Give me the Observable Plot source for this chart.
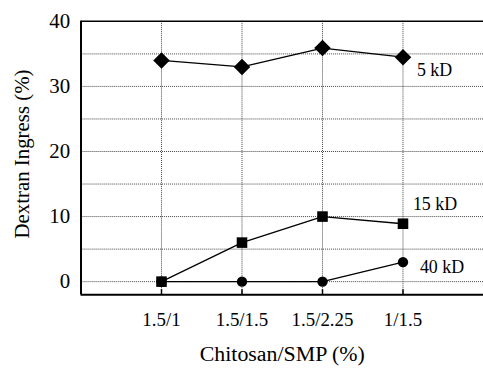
<!DOCTYPE html>
<html><head><meta charset="utf-8">
<script src="https://cdn.jsdelivr.net/npm/d3@7"></script>
<script src="https://cdn.jsdelivr.net/npm/@observablehq/plot@0.6"></script>
<style>html,body{margin:0;padding:0;background:#fff;overflow:hidden} svg{display:block}</style>
</head><body><div id="chart"></div>
<script>
const categories = ["1.5/1", "1.5/1.5", "1.5/2.25", "1/1.5"];
const seriesNames = ["5 kD", "15 kD", "40 kD"];
const values5kD = [34, 33, 35.9, 34.5];
const values15kD = [0, 6, 10, 8.9];
const values40kD = [0, 0, 0, 3];
const yTicks = [0, 10, 20, 30, 40];
const yGrid = [0, 5, 10, 15, 20, 25, 30, 35];
const yTitle = "Dextran Ingress (%)";
const xTitle = "Chitosan/SMP (%)";

const idx = categories.map((c, i) => i + 1);
const allSeries = [values5kD, values15kD, values40kD];
const symbols = ["diamond2", "square", "circle"];
const sizes = [7.5, 6, 5.2];
const rows = allSeries.flatMap((vals, s) => vals.map((v, i) => ({x: i + 1, y: v, series: seriesNames[s]})));
const lastRows = allSeries.map((vals, s) => ({x: vals.length, y: vals[vals.length - 1], series: seriesNames[s]}));
const labelOffsets = [[14, 13], [10, -20], [17, 5]];

const font = "'Liberation Serif', 'Times New Roman', serif";
const chart = Plot.plot({
  width: 486, height: 368,
  marginLeft: 81, marginRight: 0, marginTop: 21, marginBottom: 72,
  style: {fontFamily: font, fontSize: "17px", color: "#000", background: "#fff"},
  x: {domain: [0, 5], axis: null},
  y: {domain: [-2, 40], axis: null},
  marks: [
    Plot.ruleY(yGrid, {stroke: "#444", strokeWidth: 1, strokeDasharray: "1,1"}),
    Plot.ruleX(idx, {stroke: "#444", strokeWidth: 1, strokeDasharray: "1,1"}),
    Plot.ruleX(idx, {y1: -2, y2: -2, insetTop: -5, stroke: "#000", strokeWidth: 1.5}),
    Plot.axisY(yTicks, {tickSize: 0, tickPadding: 11, fontSize: 21, label: null}),
    Plot.axisX(idx, {tickSize: 0, tickPadding: 18, fontSize: 19, tickFormat: i => categories[i - 1], label: null}),
    Plot.ruleY([40], {stroke: "#000", strokeWidth: 1.5}),
    Plot.ruleY([-2], {stroke: "#000", strokeWidth: 2}),
    Plot.ruleX([0], {stroke: "#000", strokeWidth: 2}),
    Plot.line(rows, {x: "x", y: "y", z: "series", stroke: "#000", strokeWidth: 1.3}),
    ...seriesNames.map((name, s) => Plot.dot(rows.filter(d => d.series === name), {x: "x", y: "y", symbol: () => symbols[s], r: sizes[s], fill: "#000", stroke: "none"})),
    ...seriesNames.map((name, s) => Plot.text([lastRows[s]], {x: "x", y: "y", text: "series", textAnchor: "start", dx: labelOffsets[s][0], dy: labelOffsets[s][1], fontSize: 18})),
    Plot.text([yTitle], {frameAnchor: "left", textAnchor: "middle", lineAnchor: "middle", rotate: -90, dx: -59, dy: -4, fontSize: 21}),
    Plot.text([xTitle], {frameAnchor: "bottom", textAnchor: "middle", lineAnchor: "middle", dy: 60, fontSize: 22})
  ]
});
document.getElementById("chart").append(chart);
</script>
</body></html>
